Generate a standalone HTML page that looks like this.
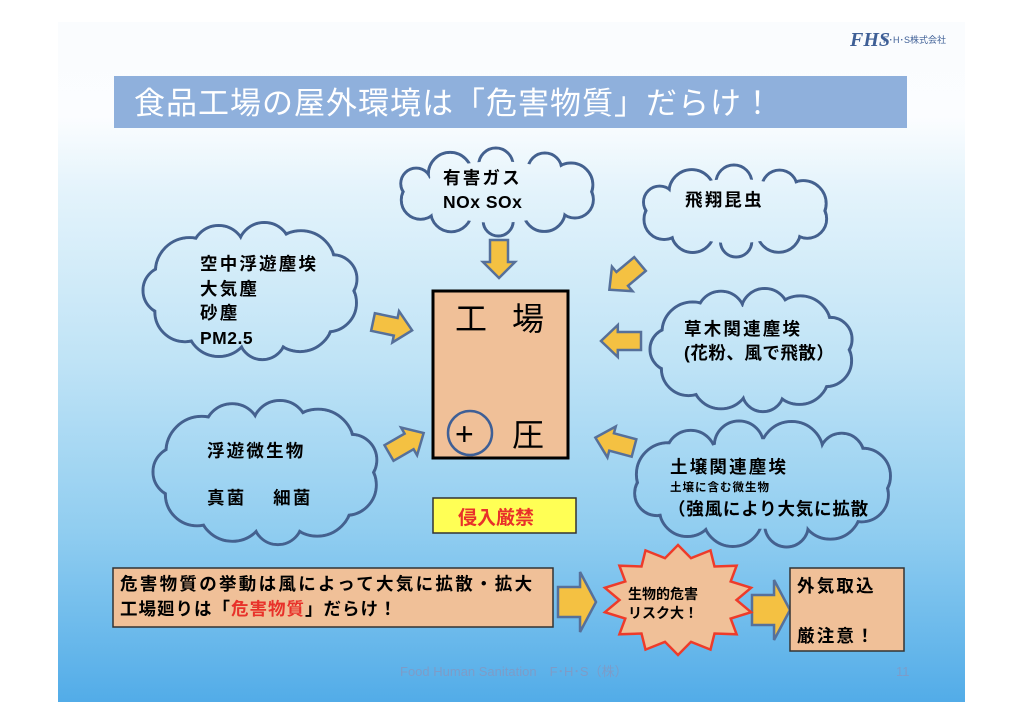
<!DOCTYPE html>
<html><head><meta charset="utf-8"><style>
html,body{margin:0;padding:0;background:#fff;width:1024px;height:724px;overflow:hidden}
svg{display:block}
text{font-family:"Liberation Sans","Noto Sans CJK JP",sans-serif;font-weight:bold;fill:#000}
.l{font-size:17.5px;letter-spacing:2.2px}
</style></head><body>
<svg id="s" width="1024" height="724" viewBox="0 0 1024 724">
<defs>
<linearGradient id="bg" gradientUnits="userSpaceOnUse" x1="0" y1="22" x2="0" y2="702">
<stop offset="0" stop-color="#fafcfe"/><stop offset="0.14" stop-color="#fbfdff"/>
<stop offset="0.25" stop-color="#e3f3fb"/><stop offset="0.5" stop-color="#bfe3f6"/>
<stop offset="0.75" stop-color="#90cdf0"/><stop offset="1" stop-color="#52ace8"/>
</linearGradient>
</defs>
<rect x="58" y="22" width="907" height="680" fill="url(#bg)"/>
<rect x="114" y="76" width="793" height="52" fill="#8fb0dc"/>
<text x="134" y="114" font-size="31" style="font-weight:normal;fill:#fff" letter-spacing="1">食品工場の屋外環境は「危害物質」だらけ！</text>
<text x="850" y="46" font-size="20" style="font-style:italic;font-family:'Liberation Serif',serif;fill:#3e5f96">FHS</text>
<text x="883" y="43" font-size="9" style="font-weight:normal;fill:#3e5f96">F･H･S株式会社</text>
<g id="clouds"></g>
<g fill="#f4c142" stroke="#56709a" stroke-width="2.5" stroke-linejoin="miter">
<g id="arrows"></g>
</g>
<rect x="433" y="291" width="135" height="167" fill="#f0c098" stroke="#000" stroke-width="3"/>
<text x="455" y="330" font-size="32" style="font-weight:normal">工</text>
<text x="512" y="330" font-size="32" style="font-weight:normal">場</text>
<circle cx="470" cy="433" r="22" fill="none" stroke="#3e5f96" stroke-width="2.5"/>
<text x="455" y="445" font-size="32" style="font-weight:normal">+</text>
<text x="512" y="446" font-size="32" style="font-weight:normal">圧</text>
<rect x="433" y="498" width="143" height="35" fill="#ffff55" stroke="#333" stroke-width="1.5"/>
<text x="458" y="524" font-size="19" style="fill:#e8312a">侵入厳禁</text>
<text class="l" x="443" y="184">有害ガス</text>
<text class="l" x="443" y="208" style="letter-spacing:0.5px">NOx  SOx</text>
<text class="l" x="685" y="206">飛翔昆虫</text>
<text class="l" x="200" y="270">空中浮遊塵埃</text>
<text class="l" x="200" y="295">大気塵</text>
<text class="l" x="200" y="319">砂塵</text>
<text class="l" x="200" y="344" style="letter-spacing:0.5px">PM2.5</text>
<text class="l" x="207" y="457">浮遊微生物</text>
<text class="l" x="207" y="504">真菌　 細菌</text>
<text class="l" x="684" y="335">草木関連塵埃</text>
<text class="l" x="684" y="359" style="letter-spacing:0.5px">(花粉、風で飛散）</text>
<text class="l" x="670" y="473">土壌関連塵埃</text>
<text x="670" y="491" font-size="11.5" letter-spacing="1">土壌に含む微生物</text>
<text class="l" x="668" y="515" style="letter-spacing:0.8px">（強風により大気に拡散</text>
<rect x="113" y="568" width="440" height="59" fill="#f0c098" stroke="#333" stroke-width="1.5"/>
<text class="l" x="120" y="590" style="letter-spacing:2.3px">危害物質の挙動は風によって大気に拡散・拡大</text>
<text class="l" x="120" y="615" style="letter-spacing:1px">工場廻りは「<tspan style="fill:#e8312a">危害物質</tspan>」だらけ！</text>
<polygon id="star" fill="#f0c098" stroke="#ee3b2a" stroke-width="2.5"/>
<text x="628" y="599" font-size="14">生物的危害</text>
<text x="628" y="618" font-size="14">リスク大！</text>
<rect x="790" y="568" width="114" height="83" fill="#f0c098" stroke="#333" stroke-width="1.5"/>
<text class="l" x="797" y="592">外気取込</text>
<text class="l" x="797" y="642">厳注意！</text>
<text x="400" y="676" font-size="13" style="font-weight:normal;fill:#7d9cc8">Food Human Sanitation　F･H･S（株）</text>
<text x="896" y="676" font-size="13" style="font-weight:normal;fill:#7d9cc8">11</text>
</svg>
<script>
var NS="http://www.w3.org/2000/svg";
function el(p,t,a){var e=document.createElementNS(NS,t);for(var k in a)e.setAttribute(k,a[k]);p.appendChild(e);return e;}
var cg=document.getElementById("clouds");
function cloud(x0,y0,x1,y1,n){
 var cx=(x0+x1)/2,cy=(y0+y1)/2,rx=(x1-x0)/2,ry=(y1-y0)/2;var cs=[];
 for(var i=0;i<n;i++){var t=i/n*2*Math.PI+0.3;var r=Math.min(rx,ry)*(0.42+0.08*Math.sin(i*2.3));
  cs.push([cx+(rx-r)*Math.cos(t),cy+(ry-r)*Math.sin(t),r]);}
 var g=el(cg,"g",{});
 cs.forEach(function(c){el(g,"circle",{cx:c[0],cy:c[1],r:c[2],fill:"none",stroke:"#44618f","stroke-width":3});});
 cs.forEach(function(c){el(g,"circle",{cx:c[0],cy:c[1],r:c[2]-1.5,fill:"url(#bg)"});});
 el(g,"ellipse",{cx:cx,cy:cy,rx:rx*0.75,ry:ry*0.7,fill:"url(#bg)"});
}
cloud(397,148,597,236,10);
cloud(640,165,830,257,10);
cloud(143,222,360,360,11);
cloud(153,400,380,545,11);
cloud(650,288,855,412,11);
cloud(632,420,893,548,12);
var ag=document.getElementById("arrows");
function arrow(x,y,len,h,hw,ang){
 var hl=len*0.42,b=len-hl;
 var pts=[[0,-h],[b,-h],[b,-hw],[len,0],[b,hw],[b,h],[0,h]].map(function(p){return p.join(",")}).join(" ");
 el(ag,"polygon",{points:pts,transform:"translate("+x+","+y+") rotate("+ang+")"});
}
arrow(499,240,38,9,16,90);
arrow(373,322,40,9,16,12);
arrow(389,453,40,9,16,-30);
arrow(640,264,40,9,16,140);
arrow(641,341,40,9,16,180);
arrow(634,448,40,9,16,195);
arrow(558,602,38,15,30,0);
arrow(752,610,38,15,30,0);
var st=document.getElementById("star"),p=[],N=14;
for(var i=0;i<N*2;i++){var t=i/(N*2)*2*Math.PI-Math.PI/2;var r=i%2?0.78:1;p.push((678+75*r*Math.cos(t)).toFixed(1)+","+(600+55*r*Math.sin(t)).toFixed(1));}
st.setAttribute("points",p.join(" "));
</script>
</body></html>
